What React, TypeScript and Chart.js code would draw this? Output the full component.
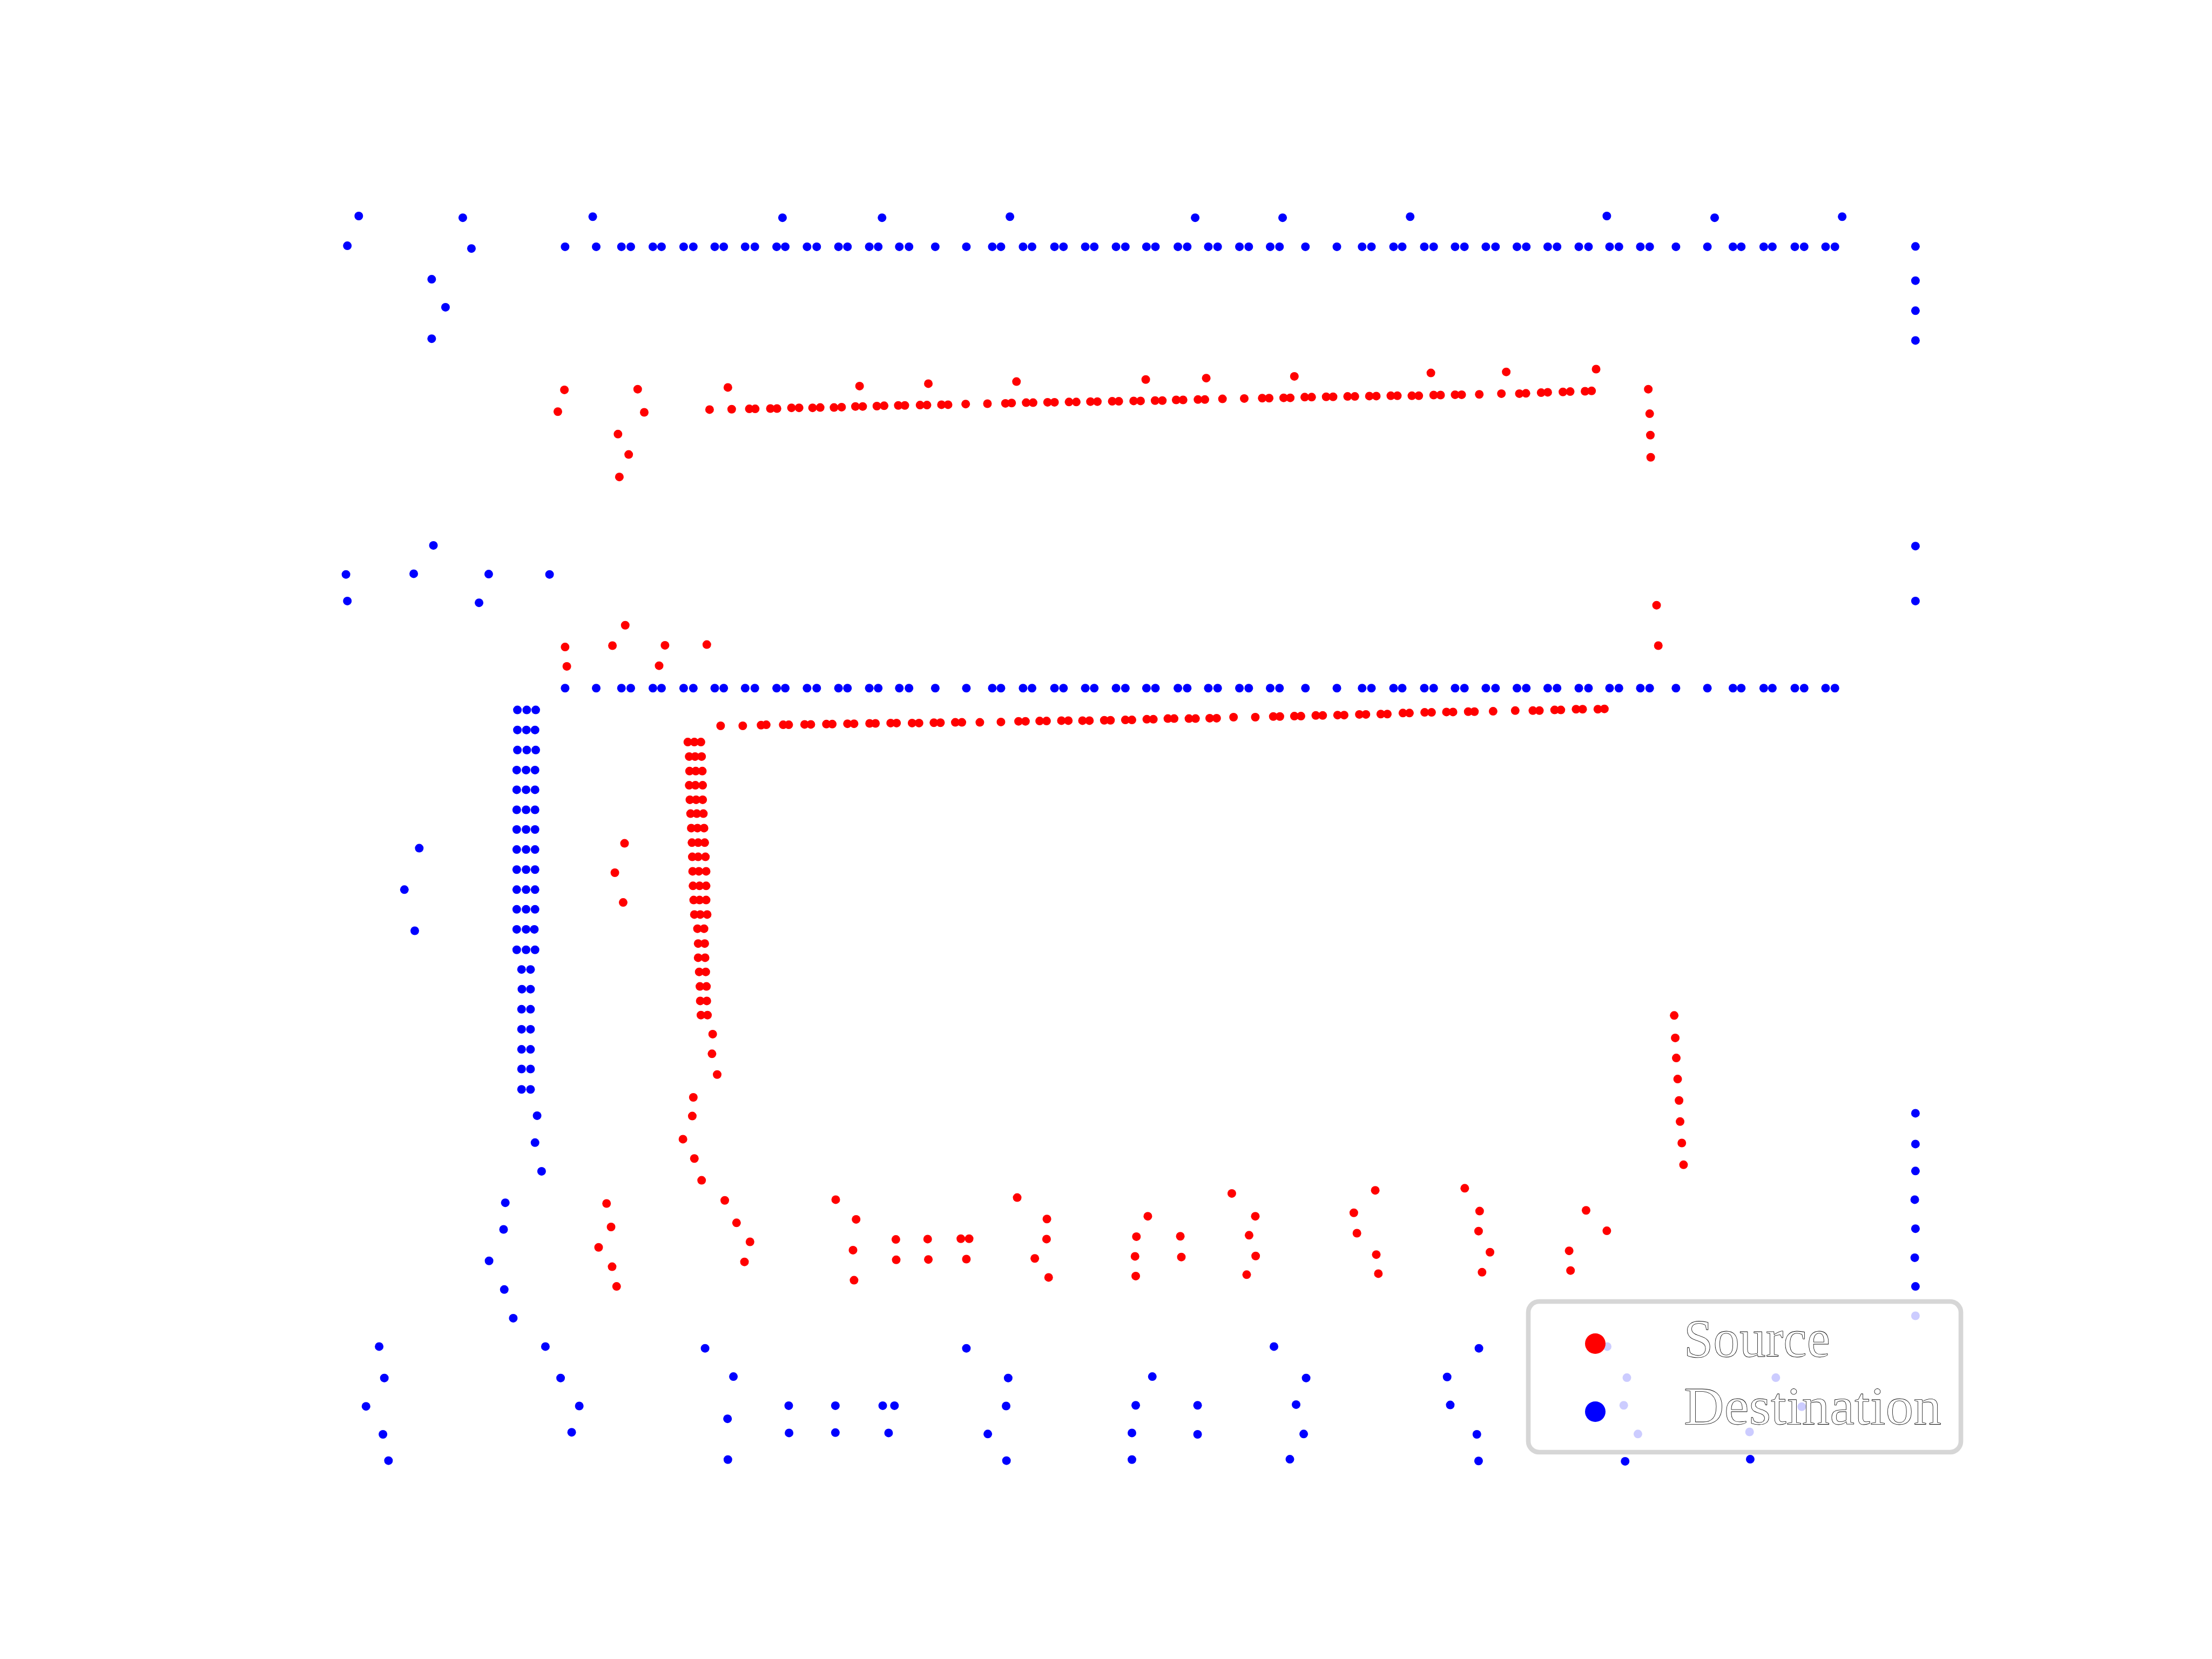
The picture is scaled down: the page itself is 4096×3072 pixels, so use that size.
import React, { useEffect, useRef } from "react";
import { Chart, registerables } from "chart.js";

Chart.register(...registerables);

type P = [number, number];

// ---------------- Source (red) ----------------
const srcUpperSparse: P[] = [
  [1633, 1128], [1845, 1126], [2106, 1121], [2487, 1117], [2686, 1110], [2941, 1104],
  [3315, 1098], [3490, 1094], [3745, 1089], [4140, 1079], [4358, 1076], [4618, 1068],
];
const srcUpperLeft: P[] = [
  [1614, 1191], [1864, 1193], [1788, 1256], [1819, 1315], [1792, 1380],
];
const srcUpperRow: P[] = [
  [2053, 1185], [2117, 1184], [2168, 1183], [2185, 1183], [2229, 1182], [2248, 1182],
  [2290, 1180], [2312, 1180], [2351, 1180], [2373, 1179], [2413, 1179], [2435, 1178],
  [2475, 1176], [2496, 1176], [2537, 1175], [2558, 1174], [2599, 1173], [2618, 1173],
  [2662, 1172], [2682, 1172], [2724, 1171], [2743, 1171], [2794, 1169], [2857, 1168],
  [2909, 1167], [2927, 1166], [2969, 1165], [2989, 1165], [3031, 1164], [3051, 1164],
  [3093, 1163], [3114, 1163], [3155, 1162], [3175, 1162], [3218, 1161], [3237, 1161],
  [3280, 1160], [3300, 1160], [3342, 1159], [3363, 1159], [3403, 1157], [3423, 1157],
  [3466, 1156], [3486, 1156], [3537, 1154], [3600, 1153], [3652, 1152], [3672, 1152],
  [3714, 1151], [3733, 1151], [3775, 1149], [3795, 1149], [3837, 1148], [3857, 1148],
  [3899, 1147], [3920, 1147], [3962, 1146], [3982, 1146], [4024, 1145], [4043, 1145],
  [4085, 1145], [4105, 1145], [4148, 1143], [4168, 1143], [4210, 1142], [4229, 1142],
  [4280, 1141], [4344, 1139], [4396, 1139], [4415, 1138], [4459, 1136], [4478, 1135],
  [4522, 1134], [4543, 1133], [4586, 1132], [4605, 1131],
];
const srcUpperRight: P[] = [
  [4769, 1126], [4773, 1197], [4775, 1259], [4776, 1323], [4793, 1751], [4798, 1868],
];
const srcMiddleCluster: P[] = [
  [1809, 1809], [1635, 1872], [1772, 1868], [1924, 1867], [2045, 1865], [1640, 1928], [1907, 1926],
];
const srcLowerRow: P[] = [
  [2085, 2100], [2149, 2100], [2202, 2098], [2217, 2097], [2266, 2097], [2282, 2097],
  [2328, 2096], [2346, 2096], [2391, 2095], [2408, 2095], [2452, 2094], [2471, 2094],
  [2516, 2093], [2533, 2093], [2577, 2092], [2594, 2092], [2639, 2092], [2659, 2092],
  [2702, 2091], [2721, 2091], [2764, 2090], [2783, 2090], [2835, 2090], [2896, 2089],
  [2947, 2087], [2967, 2087], [3008, 2086], [3028, 2086], [3071, 2085], [3091, 2085],
  [3132, 2085], [3152, 2085], [3195, 2084], [3213, 2084], [3256, 2083], [3275, 2083],
  [3318, 2081], [3337, 2081], [3379, 2079], [3397, 2079], [3440, 2079], [3459, 2079],
  [3500, 2078], [3520, 2078], [3569, 2075], [3632, 2075], [3684, 2073], [3703, 2073],
  [3745, 2072], [3764, 2072], [3807, 2070], [3827, 2070], [3870, 2069], [3889, 2069],
  [3933, 2067], [3952, 2067], [3995, 2066], [4014, 2066], [4059, 2063], [4078, 2063],
  [4122, 2061], [4142, 2061], [4185, 2060], [4204, 2060], [4248, 2059], [4266, 2059],
  [4320, 2058], [4384, 2056], [4435, 2056], [4454, 2056], [4498, 2054], [4516, 2054],
  [4560, 2052], [4579, 2052], [4623, 2052], [4642, 2051],
];
const srcColumn: P[] = [
  [1990, 2147], [2009, 2147], [2028, 2147],
  [1994, 2189], [2011, 2189], [2030, 2189],
  [1995, 2231], [2013, 2231], [2032, 2231],
  [1994, 2272], [2012, 2272], [2033, 2272],
  [1996, 2314], [2014, 2314], [2033, 2314],
  [1998, 2354], [2016, 2354], [2035, 2354],
  [2000, 2396], [2018, 2396], [2037, 2396],
  [2002, 2438], [2020, 2438], [2039, 2438],
  [2003, 2479], [2020, 2479], [2041, 2479],
  [2004, 2521], [2022, 2521], [2043, 2521],
  [2005, 2563], [2024, 2563], [2043, 2563],
  [2007, 2604], [2024, 2604], [2043, 2604],
  [2009, 2646], [2026, 2646], [2046, 2646],
  [2018, 2687], [2037, 2687],
  [2020, 2730], [2039, 2730],
  [2020, 2771], [2040, 2771],
  [2023, 2812], [2042, 2812],
  [2025, 2854], [2044, 2854],
  [2026, 2896], [2045, 2896],
  [2028, 2937], [2047, 2937],
  [2062, 2992], [2060, 3049], [2075, 3109], [2006, 3175], [2003, 3229], [1976, 3296],
  [2009, 3352], [2030, 3415],
];
const srcMiddleLeft: P[] = [[1807, 2440], [1779, 2525], [1803, 2611]];
const srcRightColumn: P[] = [
  [4844, 2938], [4847, 3003], [4850, 3061], [4854, 3122], [4858, 3184], [4861, 3245],
  [4866, 3307], [4871, 3370],
];
const srcBottom: P[] = [
  [1755, 3482], [1768, 3550], [1732, 3609], [1771, 3665], [1784, 3722],
  [2097, 3473], [2131, 3538], [2170, 3593], [2154, 3651],
  [2418, 3471], [2477, 3528], [2468, 3617], [2471, 3704], [2592, 3586], [2593, 3645],
  [2684, 3585], [2686, 3644], [2780, 3584], [2804, 3584], [2796, 3643],
  [2943, 3465], [3029, 3527], [3028, 3585], [2994, 3641], [3034, 3696],
  [3321, 3519], [3288, 3578], [3284, 3635], [3286, 3692], [3415, 3577], [3418, 3637],
  [3564, 3453], [3632, 3519], [3614, 3574], [3633, 3634], [3607, 3688],
  [3979, 3444], [3917, 3509], [3926, 3568], [3982, 3630], [3988, 3685],
  [4238, 3438], [4281, 3504], [4278, 3562], [4311, 3623], [4288, 3681],
  [4589, 3502], [4649, 3561], [4540, 3619], [4544, 3676],
];

// ---------------- Destination (blue) ----------------
const dstTopSparse: P[] = [
  [1038, 625], [1339, 630], [1715, 627], [2264, 630], [2552, 630], [2922, 627],
  [3458, 630], [3711, 630], [4080, 627], [4649, 625], [4961, 630], [5330, 627],
];
const dstTopLeft: P[] = [
  [1005, 711], [1364, 719], [1249, 808], [1289, 889], [1249, 980],
];
const dstTopRow: P[] = [
  [1635, 714], [1725, 714], [1798, 714], [1825, 714], [1889, 714], [1914, 714],
  [1978, 714], [2006, 714], [2068, 714], [2094, 714], [2156, 714], [2184, 714],
  [2247, 714], [2272, 714], [2335, 714], [2363, 714], [2426, 714], [2452, 714],
  [2515, 714], [2541, 714], [2602, 714], [2630, 714], [2706, 714], [2796, 714],
  [2871, 714], [2896, 714], [2960, 714], [2986, 714], [3051, 714], [3077, 714],
  [3140, 714], [3166, 714], [3229, 714], [3256, 714], [3317, 714], [3343, 714],
  [3408, 714], [3435, 714], [3496, 714], [3523, 714], [3586, 714], [3613, 714],
  [3675, 714], [3702, 714], [3777, 714], [3868, 714], [3941, 714], [3968, 714],
  [4032, 714], [4057, 714], [4121, 714], [4148, 714], [4210, 714], [4237, 714],
  [4299, 714], [4327, 714], [4389, 714], [4416, 714], [4478, 714], [4505, 714],
  [4568, 714], [4596, 714], [4657, 714], [4684, 714], [4746, 714], [4773, 714],
  [4849, 714], [4940, 714], [5014, 714], [5038, 714], [5103, 714], [5128, 714],
  [5193, 714], [5220, 714], [5282, 714], [5309, 714],
];
const dstRightColumn: P[] = [
  [5542, 713], [5542, 812], [5542, 899], [5542, 985], [5542, 1580], [5542, 1739],
  [5542, 3221], [5542, 3310], [5542, 3388], [5540, 3471], [5542, 3555], [5540, 3639],
  [5542, 3722], [5542, 3807],
];
const dstMiddleLeft: P[] = [
  [1254, 1578], [1001, 1662], [1197, 1660], [1414, 1661], [1590, 1662], [1005, 1739], [1386, 1744],
];
const dstMiddleRow: P[] = [
  [1635, 1991], [1725, 1991], [1798, 1991], [1825, 1991], [1889, 1991], [1914, 1991],
  [1978, 1991], [2006, 1991], [2068, 1991], [2094, 1991], [2156, 1991], [2184, 1991],
  [2247, 1991], [2272, 1991], [2335, 1991], [2363, 1991], [2426, 1991], [2452, 1991],
  [2515, 1991], [2541, 1991], [2602, 1991], [2630, 1991], [2706, 1991], [2796, 1991],
  [2871, 1991], [2896, 1991], [2960, 1991], [2986, 1991], [3051, 1991], [3077, 1991],
  [3140, 1991], [3166, 1991], [3229, 1991], [3256, 1991], [3317, 1991], [3343, 1991],
  [3408, 1991], [3435, 1991], [3496, 1991], [3523, 1991], [3586, 1991], [3613, 1991],
  [3675, 1991], [3702, 1991], [3777, 1991], [3868, 1991], [3941, 1991], [3968, 1991],
  [4032, 1991], [4057, 1991], [4121, 1991], [4148, 1991], [4210, 1991], [4237, 1991],
  [4299, 1991], [4327, 1991], [4389, 1991], [4416, 1991], [4478, 1991], [4505, 1991],
  [4568, 1991], [4596, 1991], [4657, 1991], [4684, 1991], [4746, 1991], [4773, 1991],
  [4849, 1991], [4940, 1991], [5014, 1991], [5038, 1991], [5103, 1991], [5128, 1991],
  [5193, 1991], [5220, 1991], [5282, 1991], [5309, 1991],
];
const dstColumn: P[] = [
  [1497, 2054], [1524, 2054], [1550, 2054],
  [1497, 2112], [1523, 2112], [1548, 2112],
  [1497, 2170], [1524, 2170], [1550, 2170],
  [1495, 2228], [1522, 2228], [1548, 2228],
  [1495, 2285], [1522, 2285], [1548, 2285],
  [1495, 2343], [1522, 2343], [1548, 2343],
  [1495, 2400], [1522, 2400], [1548, 2400],
  [1495, 2458], [1522, 2458], [1548, 2458],
  [1495, 2516], [1522, 2516], [1548, 2516],
  [1495, 2574], [1522, 2574], [1548, 2574],
  [1495, 2631], [1522, 2631], [1548, 2631],
  [1495, 2689], [1522, 2689], [1546, 2689],
  [1495, 2748], [1522, 2748], [1548, 2748],
  [1509, 2805], [1535, 2805],
  [1510, 2862], [1535, 2862],
  [1509, 2920], [1535, 2920],
  [1509, 2978], [1535, 2978],
  [1509, 3036], [1535, 3036],
  [1509, 3093], [1535, 3093],
  [1509, 3152], [1535, 3152],
  [1554, 3228], [1548, 3306], [1567, 3389],
];
const dstFarLeft: P[] = [[1213, 2454], [1170, 2574], [1200, 2693]];
const dstBottom: P[] = [
  [1462, 3480], [1457, 3557], [1415, 3648], [1459, 3731], [1485, 3814],
  [1097, 3896], [1112, 3987], [1059, 4069], [1108, 4150], [1124, 4226],
  [1578, 3896], [1622, 3987], [1676, 4068], [1654, 4144],
  [2040, 3901], [2122, 3983], [2105, 4105], [2106, 4223],
  [2282, 4067], [2283, 4146], [2417, 4067], [2417, 4145], [2554, 4067], [2588, 4067], [2571, 4146],
  [2796, 3901], [2917, 3987], [2911, 4068], [2858, 4149], [2912, 4226],
  [3334, 3983], [3286, 4066], [3275, 4146], [3275, 4223], [3465, 4066], [3465, 4150],
  [3686, 3896], [3779, 3987], [3750, 4064], [3772, 4149], [3732, 4222],
  [4279, 3901], [4187, 3984], [4196, 4065], [4273, 4150], [4278, 4227],
  [4650, 3896], [4707, 3986], [4698, 4066], [4739, 4149], [4702, 4228],
  [5138, 3986], [5213, 4070], [5062, 4143], [5064, 4222],
];

const seriesLabels = ["Source", "Destination"];
const seriesColors = ["#ff0000", "#0000ff"];

const sourcePoints: P[] = [
  ...srcUpperSparse, ...srcUpperLeft, ...srcUpperRow, ...srcUpperRight, ...srcMiddleCluster,
  ...srcLowerRow, ...srcColumn, ...srcMiddleLeft, ...srcRightColumn, ...srcBottom,
];
const destinationPoints: P[] = [
  ...dstTopSparse, ...dstTopLeft, ...dstTopRow, ...dstRightColumn, ...dstMiddleLeft,
  ...dstMiddleRow, ...dstColumn, ...dstFarLeft, ...dstBottom,
];

const toXY = (arr: P[]) => arr.map(([x, y]) => ({ x, y }));

const W = 4096;
const H = 3072;

const legendPlugin = {
  id: "boxLegend",
  afterDraw(chart: any) {
    const ctx: CanvasRenderingContext2D = chart.ctx;
    const x0 = 2830, y0 = 2410, x1 = 3631, y1 = 2689, r = 20;
    ctx.save();
    ctx.beginPath();
    ctx.moveTo(x0 + r, y0);
    ctx.lineTo(x1 - r, y0);
    ctx.arcTo(x1, y0, x1, y0 + r, r);
    ctx.lineTo(x1, y1 - r);
    ctx.arcTo(x1, y1, x1 - r, y1, r);
    ctx.lineTo(x0 + r, y1);
    ctx.arcTo(x0, y1, x0, y1 - r, r);
    ctx.lineTo(x0, y0 + r);
    ctx.arcTo(x0, y0, x0 + r, y0, r);
    ctx.closePath();
    ctx.fillStyle = "rgba(255,255,255,0.8)";
    ctx.fill();
    ctx.lineWidth = 8.6;
    ctx.strokeStyle = "rgba(204,204,204,0.8)";
    ctx.stroke();

    const rows = [
      { cy: 2488, base: 2512, width: 271 },
      { cy: 2614, base: 2637, width: 477 },
    ];
    chart.data.datasets.forEach((ds: any, i: number) => {
      const row = rows[i];
      ctx.beginPath();
      ctx.arc(2954, row.cy, 19, 0, Math.PI * 2);
      ctx.fillStyle = ds.backgroundColor;
      ctx.fill();

      ctx.save();
      ctx.font = '100px "Liberation Serif", "DejaVu Serif", serif';
      ctx.textBaseline = "alphabetic";
      ctx.textAlign = "left";
      const w = ctx.measureText(ds.label).width;
      const sx = row.width / w;
      ctx.translate(3118, row.base);
      ctx.scale(sx, 1);
      ctx.fillStyle = "#ffffff";
      ctx.fillText(ds.label, 0, 0);
      ctx.lineWidth = 0.8 / sx;
      ctx.strokeStyle = "#000000";
      ctx.lineJoin = "round";
      ctx.strokeText(ds.label, 0, 0);
      ctx.restore();
    });
    ctx.restore();
  },
};

export default function App() {
  const canvasRef = useRef<HTMLCanvasElement | null>(null);

  useEffect(() => {
    document.body.style.margin = "0";
    document.body.style.background = "#ffffff";
    const canvas = canvasRef.current;
    if (!canvas) return;
    const chart = new Chart(canvas, {
      type: "scatter",
      data: {
        datasets: [
          {
            label: seriesLabels[0],
            data: toXY(sourcePoints),
            backgroundColor: seriesColors[0],
            borderWidth: 0,
            pointRadius: 8,
            pointHoverRadius: 8,
          },
          {
            label: seriesLabels[1],
            data: toXY(destinationPoints),
            backgroundColor: seriesColors[1],
            borderWidth: 0,
            pointRadius: 8,
            pointHoverRadius: 8,
          },
        ],
      },
      options: {
        responsive: false,
        maintainAspectRatio: false,
        animation: false,
        devicePixelRatio: 1,
        events: [],
        layout: { padding: 0, autoPadding: false },
        plugins: {
          legend: { display: false },
          tooltip: { enabled: false },
          title: { display: false },
        },
        scales: {
          x: { type: "linear", min: 0, max: 6400, display: false },
          y: { type: "linear", min: 0, max: 4800, reverse: true, display: false },
        },
      },
      plugins: [legendPlugin],
    });
    return () => chart.destroy();
  }, []);

  return (
    <div style={{ position: "absolute", left: 0, top: 0, width: W, height: H, background: "#ffffff" }}>
      <canvas ref={canvasRef} width={W} height={H} style={{ width: W, height: H, display: "block" }} />
    </div>
  );
}
